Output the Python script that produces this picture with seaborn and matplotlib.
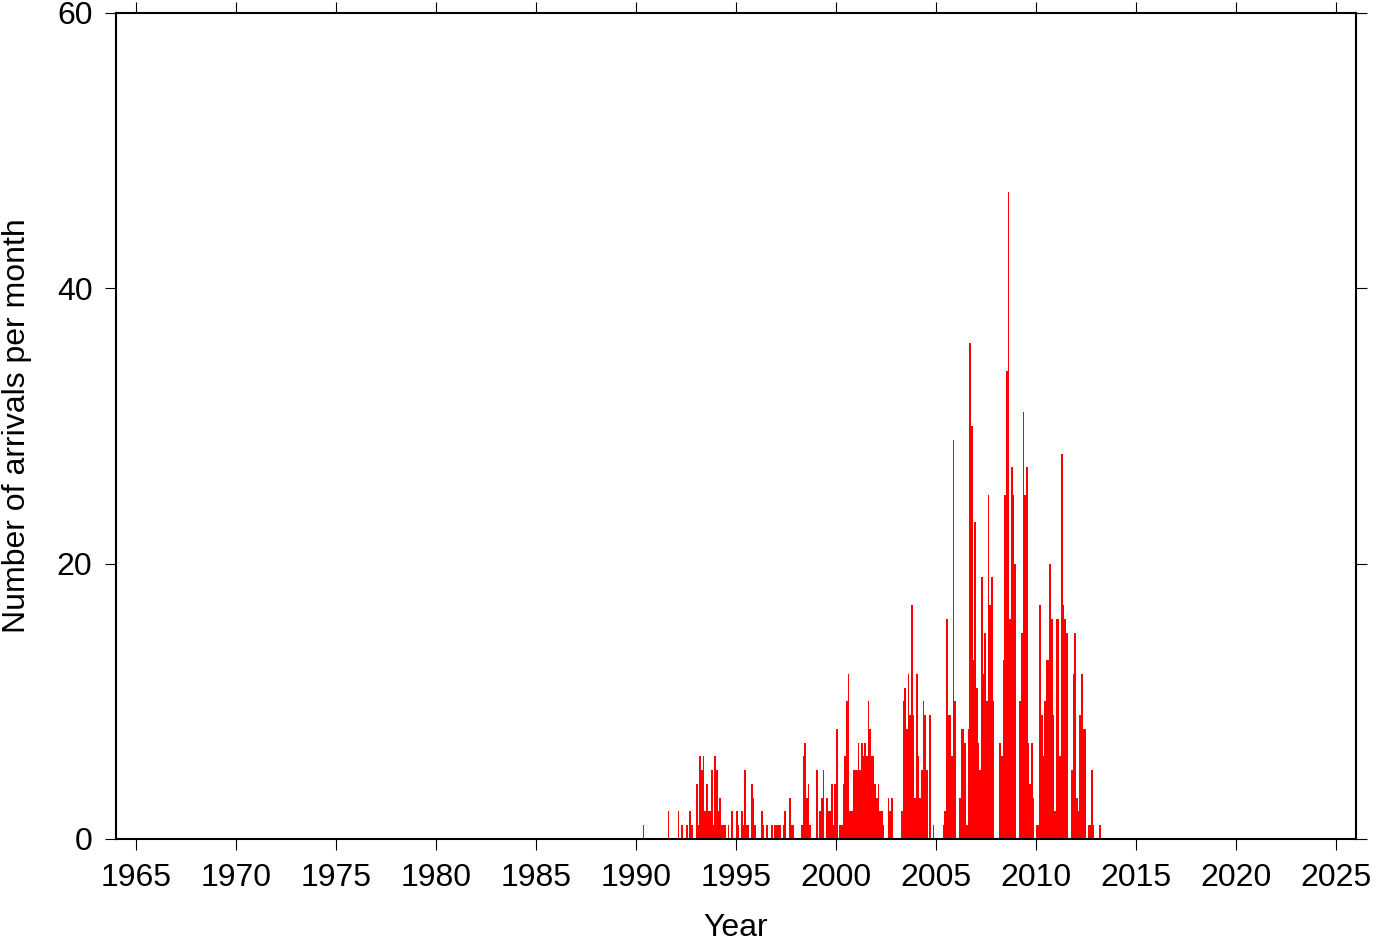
import numpy as np
import pandas as pd
import matplotlib
matplotlib.use("Agg")
import matplotlib.pyplot as plt
import seaborn as sns

# monthly arrival counts, one row of 12 months per year
first_year = 1990
monthly_counts = [
    [0, 0, 0, 0, 1, 0, 0, 0, 0, 0, 0, 0],        # 1990
    [0, 0, 0, 0, 0, 0, 0, 2, 0, 0, 0, 0],        # 1991
    [0, 2, 0, 1, 0, 0, 1, 0, 2, 1, 0, 0],        # 1992
    [4, 1, 6, 5, 6, 2, 4, 2, 2, 5, 1, 6],        # 1993
    [5, 2, 3, 1, 1, 1, 0, 1, 0, 2, 0, 0],        # 1994
    [2, 1, 0, 2, 1, 5, 1, 1, 0, 4, 3, 1],        # 1995
    [0, 0, 0, 2, 1, 0, 1, 0, 0, 1, 0, 1],        # 1996
    [1, 1, 1, 0, 1, 2, 0, 0, 3, 1, 1, 0],        # 1997
    [0, 0, 0, 1, 6, 7, 3, 4, 1, 0, 0, 0],        # 1998
    [5, 0, 2, 3, 5, 0, 3, 2, 2, 4, 1, 4],        # 1999
    [8, 0, 1, 1, 4, 6, 10, 12, 2, 2, 5, 5],      # 2000
    [5, 7, 5, 7, 6, 7, 6, 10, 8, 6, 6, 4],       # 2001
    [3, 4, 2, 2, 1, 0, 0, 3, 2, 3, 0, 0],        # 2002
    [0, 0, 0, 2, 10, 11, 8, 12, 9, 17, 9, 3],    # 2003
    [12, 6, 3, 5, 10, 9, 5, 0, 9, 0, 1, 0],      # 2004
    [0, 0, 0, 0, 1, 2, 16, 9, 9, 6, 29, 10],     # 2005
    [0, 0, 3, 8, 8, 7, 1, 8, 36, 30, 13, 23],    # 2006
    [11, 7, 5, 19, 12, 15, 10, 25, 17, 19, 10, 0],  # 2007
    [0, 0, 7, 6, 13, 25, 34, 47, 16, 27, 25, 20],   # 2008
    [0, 0, 10, 15, 31, 25, 27, 7, 4, 7, 3, 0],      # 2009
    [1, 1, 17, 9, 6, 10, 13, 13, 20, 16, 9, 2],     # 2010
    [16, 16, 6, 28, 17, 16, 15, 0, 0, 5, 12, 15],   # 2011
    [3, 2, 9, 12, 8, 8, 0, 1, 1, 5, 1, 0],          # 2012
    [0, 0, 1, 0, 0, 0, 0, 0, 0, 0, 0, 0],           # 2013
]
x_ticks = list(range(1965, 2030, 5))
y_ticks = [0, 20, 40, 60]

# building the table: decimal year at the middle of each month
rows = []
for i, months in enumerate(monthly_counts):
    for m, c in enumerate(months):
        rows.append({"t": first_year + i + (m + 0.5) / 12, "n": c})
df = pd.DataFrame(rows)

sns.set_style("ticks")
plt.rcParams["font.family"] = ["Liberation Sans", "DejaVu Sans"]
plt.rcParams["text.color"] = "black"
plt.rcParams["axes.labelcolor"] = "black"
plt.rcParams["xtick.color"] = "black"
plt.rcParams["ytick.color"] = "black"

fig = plt.figure(figsize=(13.82, 9.42), dpi=100)
ax = fig.add_axes([116 / 1382, 1 - 839 / 942, 1240 / 1382, 826 / 942])

sns.barplot(data=df, x="t", y="n", native_scale=True, color="red",
            saturation=1, width=0.85, linewidth=0, errorbar=None, ax=ax)

ax.set_xlim(1964, 2026)
ax.set_ylim(0, 60)
ax.set_xticks(x_ticks)
ax.set_yticks(y_ticks)
ax.tick_params(axis="both", which="major", direction="out", length=8,
               width=0.8, color="black", labelcolor="black", labelsize=23,
               pad=9, top=True, right=True, labeltop=False, labelright=False)
for s in ax.spines.values():
    s.set_visible(True)
    s.set_linewidth(1.5)
    s.set_color("black")

ax.set_xlabel("Year", fontsize=23, labelpad=15)
ax.set_ylabel("Number of arrivals per month", fontsize=23, labelpad=18)
ax.grid(False)

fig.savefig("out.png", dpi=100, facecolor="white")
